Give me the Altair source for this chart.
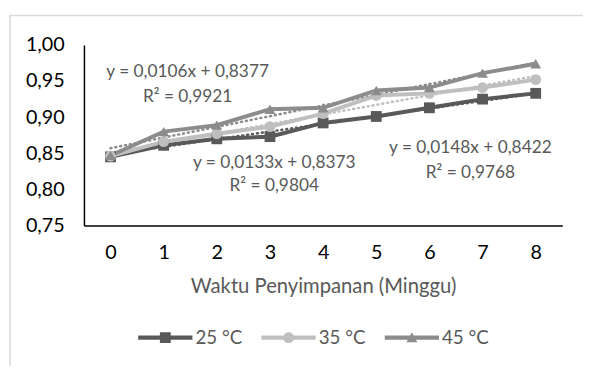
import altair as alt
import pandas as pd

weeks = [0, 1, 2, 3, 4, 5, 6, 7, 8]
series = ["25 °C", "35 °C", "45 °C"]
t25 = [0.845, 0.861, 0.870, 0.873, 0.892, 0.901, 0.913, 0.925, 0.933]
t35 = [0.846, 0.866, 0.877, 0.887, 0.905, 0.930, 0.933, 0.941, 0.952]
t45 = [0.847, 0.880, 0.889, 0.911, 0.913, 0.937, 0.941, 0.961, 0.974]
colors = ["#595959", "#BFBFBF", "#8C8C8C"]
y_ticks = [0.75, 0.80, 0.85, 0.90, 0.95, 1.00]

# trendline coefficients (Excel: x = category index 1..9)
slopes = [0.0106, 0.0133, 0.0148]
intercepts = [0.8377, 0.8373, 0.8422]
eq_texts = ["y = 0,0106x + 0,8377", "y = 0,0133x + 0,8373", "y = 0,0148x + 0,8422"]
r2_texts = ["R² = 0,9921", "R² = 0,9804", "R² = 0,9768"]
eq_x = [1.45, 3.08, 6.77]
eq_y = [0.963, 0.8365, 0.857]
r2_y = [0.928, 0.804, 0.823]

FONT = "Lato"

rows = []
for s, vals in zip(series, [t25, t35, t45]):
    for w, v in zip(weeks, vals):
        rows.append({"Minggu": w, "Nilai": v, "Suhu": s, "Legend": s})
df = pd.DataFrame(rows)

trows = []
for s, a, b in zip(series, slopes, intercepts):
    for w in weeks:
        trows.append({"Minggu": w, "Nilai": a * (w + 1) + b, "Suhu": s})
tdf = pd.DataFrame(trows)

ann = []
for t, r, x, y1, y2 in zip(eq_texts, r2_texts, eq_x, eq_y, r2_y):
    ann.append({"Minggu": x, "Nilai": y1, "t": t})
    ann.append({"Minggu": x, "Nilai": y2, "t": r})
adf = pd.DataFrame(ann)

xs = alt.Scale(domain=[-0.5, 8.5], nice=False, zero=False)
ys = alt.Scale(domain=[0.75, 1.0], nice=False, zero=False)
cscale = alt.Scale(domain=series, range=colors)

xaxis = alt.Axis(values=weeks, title="Waktu Penyimpanan (Minggu)", format="d")
yaxis = alt.Axis(values=y_ticks, title=None, format=".2f",
                 labelOverlap=False, labelFlush=False, labelBound=False, labelSeparation=0)
X = alt.X("Minggu:Q", scale=xs, axis=xaxis)
Y = alt.Y("Nilai:Q", scale=ys, axis=yaxis)

frame = alt.Chart(pd.DataFrame({"a": [0]})).mark_rect(
    fill=None, stroke="#D9D9D9", strokeWidth=1.5
).encode(x=alt.value(-75), x2=alt.value(700), y=alt.value(-30), y2=alt.value(500))

lines = alt.Chart(df).mark_line(strokeWidth=4).encode(
    x=X, y=Y, color=alt.Color("Suhu:N", scale=cscale, legend=None), detail="Suhu:N"
)

trend = alt.Chart(tdf).mark_line(strokeWidth=2.5, strokeDash=[1, 4], strokeCap="round").encode(
    x=X, y=Y, color=alt.Color("Suhu:N", scale=cscale, legend=None), detail="Suhu:N"
)

points = alt.Chart(df).mark_point(filled=True, opacity=1, size=120).encode(
    x=X, y=Y,
    color=alt.Color("Suhu:N", scale=cscale, legend=None),
    shape=alt.Shape("Suhu:N", scale=alt.Scale(domain=series, range=["square", "circle", "triangle-up"]), legend=None),
)

sq = "M-1,-0.075H-0.2V-0.2H0.2V-0.075H1V0.075H0.2V0.2H-0.2V0.075H-1Z"
ci = "M-1,-0.075H1V0.075H-1Z M-0.2,0A0.2,0.2 0 1,1 0.2,0A0.2,0.2 0 1,1 -0.2,0Z"
tr = "M-1,-0.075H1V0.075H-1Z M0,-0.2L0.2,0.17L-0.2,0.17Z"

legend_layer = alt.Chart(df).mark_point(filled=True, opacity=0, size=1).encode(
    x=X, y=Y,
    color=alt.Color("Legend:N", scale=alt.Scale(domain=series, range=colors), title=None),
    shape=alt.Shape("Legend:N", scale=alt.Scale(domain=series, range=[sq, ci, tr]), title=None,
                    legend=alt.Legend(orient="none", legendX=55, legendY=269, direction="horizontal",
                                      symbolSize=3025, symbolOpacity=1, symbolStrokeWidth=0,
                                      labelFontSize=19, labelColor="#595959", labelFont=FONT,
                                      labelOffset=3, columnPadding=19, title=None)),
)

text = alt.Chart(adf).mark_text(fontSize=17.5, color="#595959", font=FONT).encode(
    x=X, y=Y, text="t:N"
)

chart = alt.layer(frame, trend, lines, points, legend_layer, text).resolve_scale(
    color="independent", shape="independent"
).properties(
    width=485, height=183,
    padding={"left": 77, "top": 35, "right": 21, "bottom": 140},
    autosize=alt.AutoSizeParams(type="none"),
).configure_view(stroke=None).configure_axis(
    grid=False, ticks=False, domainColor="#000000", domainWidth=1.5,
    labelFontSize=20, labelColor="#000000", labelFont=FONT,
    titleFontSize=20.5, titleColor="#595959", titleFont=FONT, titleFontWeight="normal",
).configure_axisY(labelPadding=20, labelOverlap=False, labelFlush=False).configure_axisX(
    labelPadding=18, titlePadding=14
)

chart.save("out.html", embed_options={
    "renderer": "svg", "actions": False,
    "formatLocale": {"decimal": ",", "thousands": ".", "grouping": [3], "currency": ["", ""]},
})
